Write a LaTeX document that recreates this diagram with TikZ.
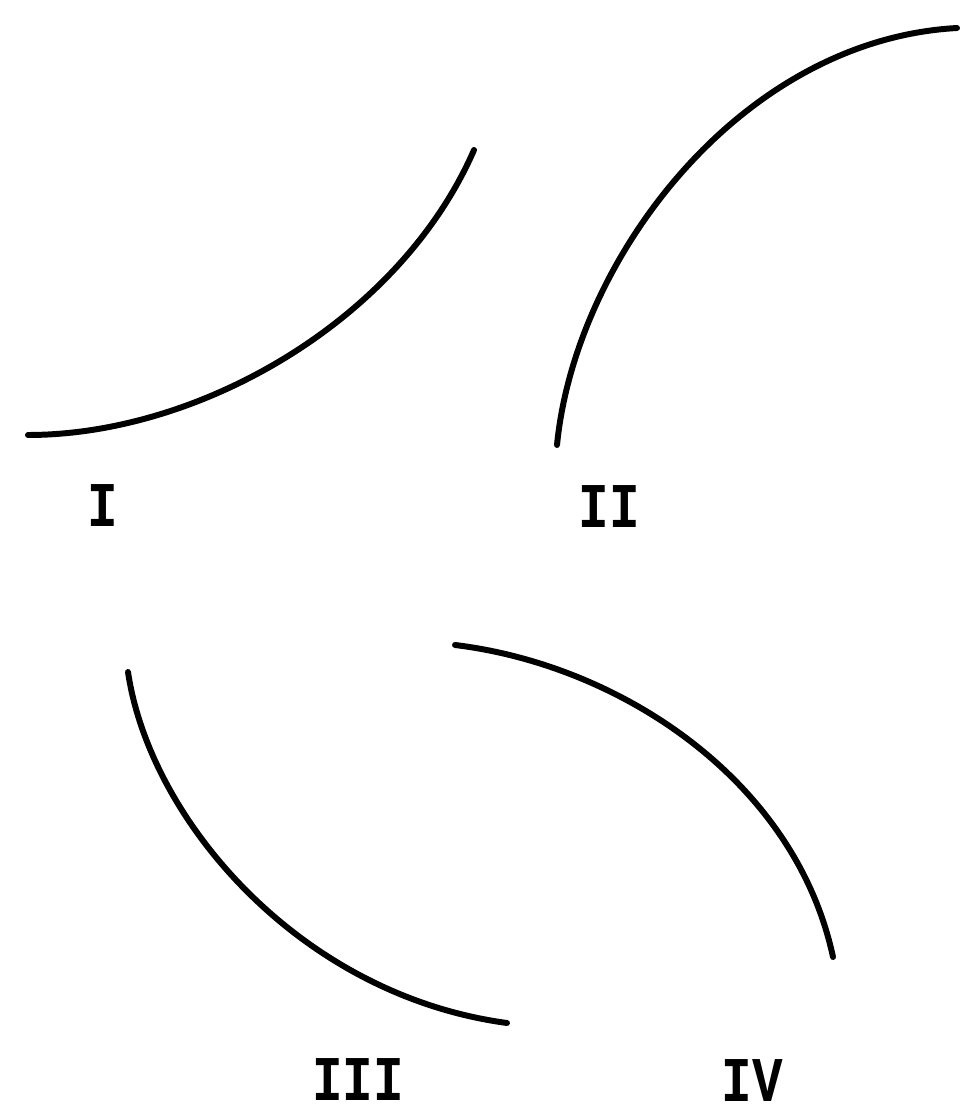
\documentclass[tikz,border=0pt]{standalone}
\usepackage{fontspec}
\setmainfont{Liberation Serif}
\setmonofont{Liberation Mono}
\usepackage{tikz}
\usetikzlibrary{arrows.meta,positioning}
\newcommand{\tallnum}[1]{\scalebox{1}[1.25]{#1}}

\begin{document}
\begin{tikzpicture}[
    x=0.02cm, y=-0.02cm,
    curve/.style={line width=3.4pt, line cap=round, black},
    numeral/.style={font=\fontsize{29}{29}\selectfont\ttfamily\bfseries, inner sep=0pt}
]
    \useasboundingbox (0,0) rectangle (962,1118);

    % the four arcs
    \draw[curve] (28,435) .. controls (200,435) and (400,320) .. (474,150);
    \draw[curve] (557,445) .. controls (575,260) and (740,40) .. (957,28);
    \draw[curve] (128,672) .. controls (150,820) and (300,995) .. (507,1023);
    \draw[curve] (455,645) .. controls (620,665) and (795,780) .. (833,957);

    \node[numeral] (one) at (103,506) {\tallnum{I}};
    \node[numeral] (two) at (609,507) {\tallnum{II}};
    \node[numeral] (three) at (358,1080) {\tallnum{III}};
    \node[numeral] (four) at (752,1081) {\tallnum{IV}};
\end{tikzpicture}
\end{document}
